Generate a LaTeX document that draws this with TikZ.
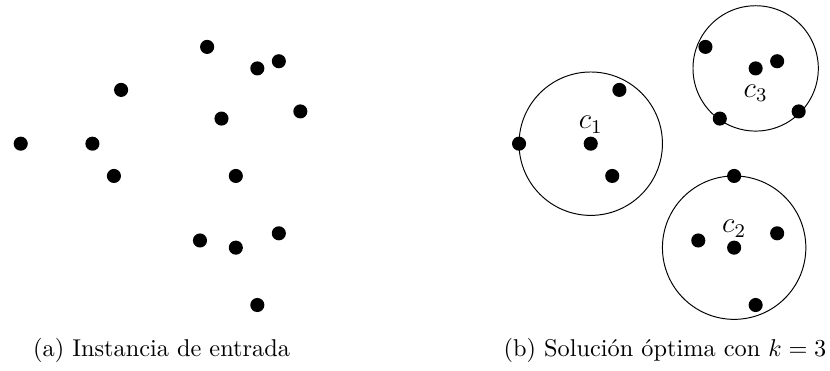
\documentclass[tikz,border=0pt]{standalone}
\usepackage{tikz}
\usepackage{amsmath}

\begin{document}
\begin{tikzpicture}[x=1.037cm, y=1.037cm,
            punto/.style={circle, fill=black, inner sep=0pt, minimum size=5.8pt},
            bola/.style={thin},
            centro/.style={font=\large}]
        % Desplazamento del panel (b) y radios de las bolas
        \def\dx{6.95} \def\ra{1.0} \def\rb{1.0} \def\rc{0.874}

        \useasboundingbox (-0.289,-3.170) rectangle (11.287,2.004);

        % (a) Instancia de entrada
        \foreach \n/\x/\y in {
                1/0/0, 2/1/0, 3/1.3/-0.45, 4/1.4/0.75, 5/2.5/-1.35,
                6/2.6/1.35, 7/2.8/0.35, 8/3.0/-0.45, 9/3.0/-1.45,
                10/3.3/1.05, 11/3.3/-2.25, 12/3.6/1.15, 13/3.6/-1.25,
                14/3.9/0.45}{
                \node[punto] (a\n) at (\x,\y) {};
                \node[punto] (b\n) at (\x+\dx,\y) {};
            }

        % (b) Centros y bolas
        \draw[bola] (b2) circle (\ra);
        \draw[bola] (b9) circle (\rb);
        \draw[bola] (b10) circle (\rc);
        \node[centro, above=-2.3pt] (lc1) at (b2.north) {$c_1$};
        \node[centro, above=-2.3pt] (lc2) at (b9.north) {$c_2$};
        \node[centro, below] (lc3) at (b10.south) {$c_3$};

        % Subtitulos
        \node[anchor=base] (capa) at (1.964,-2.97) {(a) Instancia de entrada};
        \node[anchor=base] (capb) at (8.986,-2.97) {(b) Solución óptima con $k=3$};
    \end{tikzpicture}
\end{document}
